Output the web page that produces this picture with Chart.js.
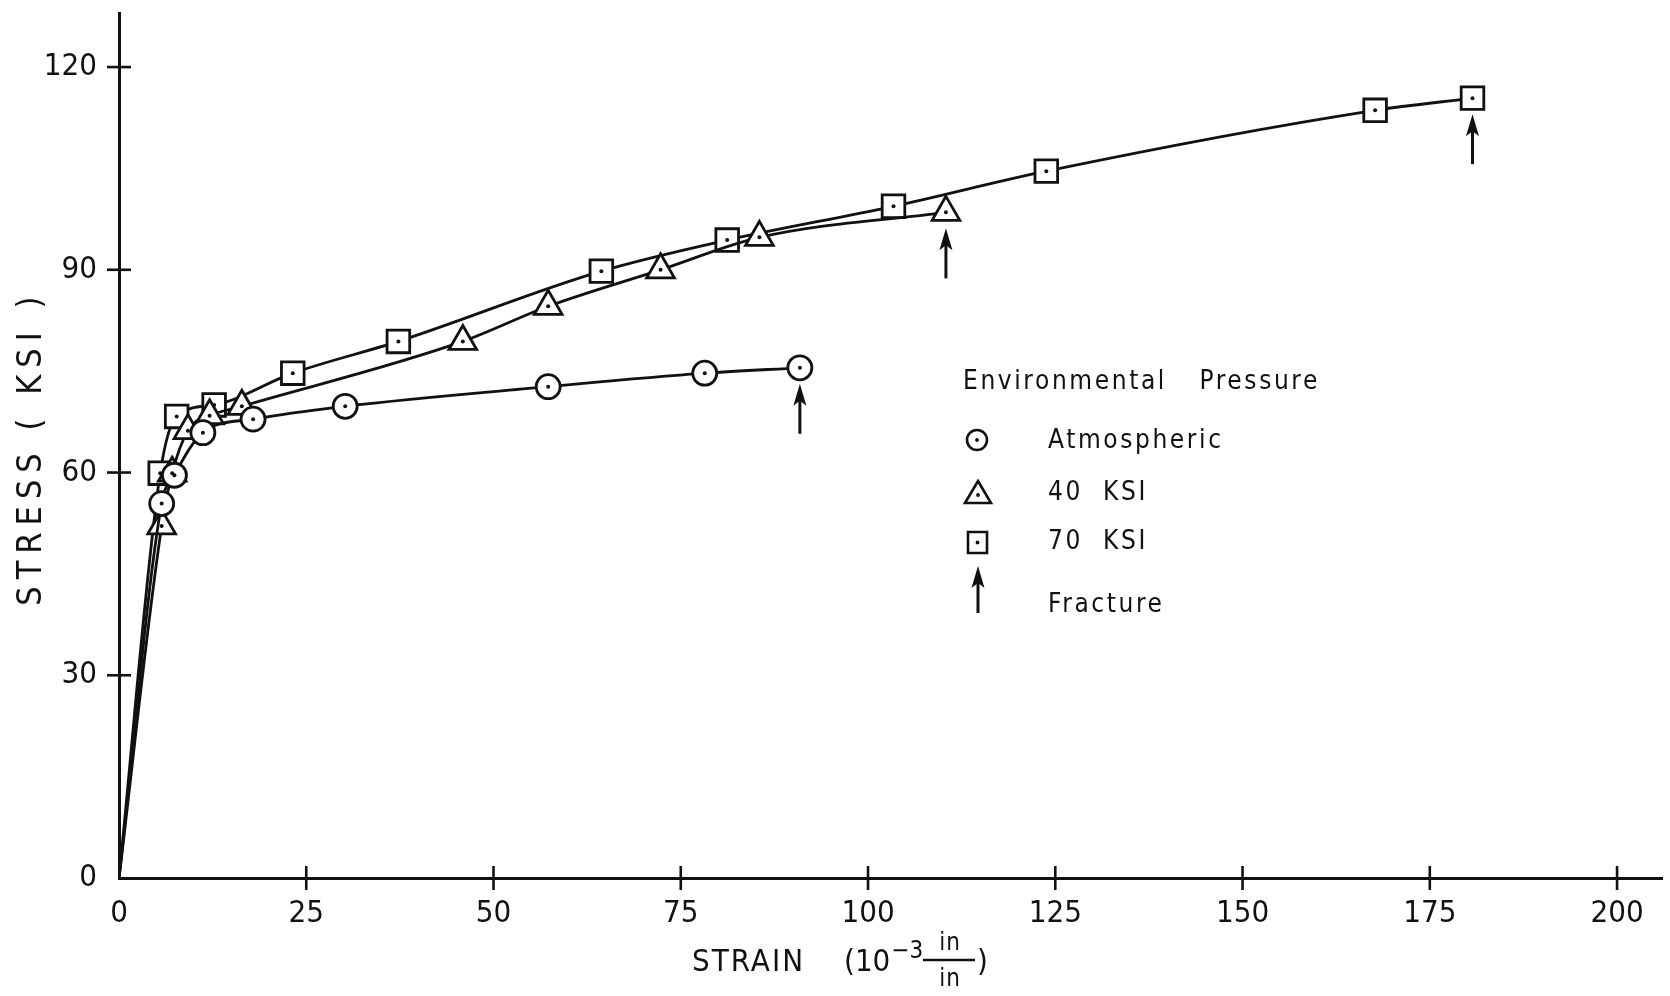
<!DOCTYPE html>
<html>
<head>
<meta charset="utf-8">
<script src="https://cdn.jsdelivr.net/npm/chart.js@4.4.1/dist/chart.umd.min.js"></script>
<style>
  html, body { margin: 0; padding: 0; background: #fff; }
  canvas { display: block; }
</style>
</head>
<body>
<canvas id="myChart" width="1670" height="996"></canvas>
<script>
(function(){
  // strain (10^-3 in/in) and stress (ksi), first point is the origin
  const atmStrain   = [0, 5.7, 7.4, 11.2, 17.9, 30.2, 57.3, 78.2, 90.9];
  const atmStress   = [0, 55.4, 59.6, 65.9, 67.9, 69.8, 72.7, 74.7, 75.5];
  const ksi40Strain = [0, 5.7, 7.1, 9.2, 12.1, 16.4, 45.9, 57.3, 72.3, 85.5, 110.4];
  const ksi40Stress = [0, 52.1, 59.9, 66.2, 68.4, 69.8, 79.4, 84.6, 90.0, 94.8, 98.5];
  const ksi70Strain = [0, 5.5, 7.7, 12.7, 23.2, 37.3, 64.4, 81.2, 103.4, 123.8, 167.7, 180.7];
  const ksi70Stress = [0, 59.9, 68.3, 70.0, 74.7, 79.4, 89.8, 94.4, 99.4, 104.6, 113.6, 115.4];

  const seriesNames = ['Atmospheric', '40  KSI', '70  KSI'];
  const xTickValues = [0, 25, 50, 75, 100, 125, 150, 175, 200];
  const yTickValues = [0, 30, 60, 90, 120];

  const FONT = '"DejaVu Sans Condensed", "Liberation Sans Narrow", "Liberation Sans", sans-serif';
  const INK = '#111';

  const pts = (xs, ys) => xs.map((x, i) => ({x: x, y: ys[i]}));

  function series(label, xs, ys, style, r){
    return {
      label: label,
      data: pts(xs, ys),
      borderColor: INK,
      borderWidth: 2.8,
      backgroundColor: '#fff',
      pointStyle: style,
      pointRadius: c => c.dataIndex === 0 ? 0 : r,
      pointHoverRadius: c => c.dataIndex === 0 ? 0 : r,
      pointBorderColor: INK,
      pointBackgroundColor: '#fff',
      pointBorderWidth: 2.8,
      cubicInterpolationMode: 'monotone',
      fill: false
    };
  }

  // small dot in the middle of every marker
  const centreDots = {
    id: 'centreDots',
    afterDatasetsDraw(chart){
      const ctx = chart.ctx;
      ctx.save();
      ctx.fillStyle = INK;
      chart.data.datasets.forEach((ds, i) => {
        chart.getDatasetMeta(i).data.forEach((el, j) => {
          if (j === 0) return;
          ctx.beginPath();
          ctx.arc(el.x, el.y, 2, 0, Math.PI * 2);
          ctx.fill();
        });
      });
      ctx.restore();
    }
  };

  function arrow(ctx, x, tip, len){
    ctx.beginPath();
    ctx.moveTo(x, tip + 12);
    ctx.lineTo(x, tip + len);
    ctx.stroke();
    ctx.beginPath();
    ctx.moveTo(x, tip);
    ctx.lineTo(x - 6.5, tip + 22);
    ctx.lineTo(x, tip + 17);
    ctx.lineTo(x + 6.5, tip + 22);
    ctx.closePath();
    ctx.fill();
  }

  // fracture arrows under the last point of each curve
  const fractures = {
    id: 'fractures',
    afterDatasetsDraw(chart){
      const ctx = chart.ctx;
      ctx.save();
      ctx.strokeStyle = INK; ctx.fillStyle = INK; ctx.lineWidth = 3;
      chart.data.datasets.forEach((ds, i) => {
        const d = chart.getDatasetMeta(i).data;
        const el = d[d.length - 1];
        arrow(ctx, el.x, el.y + 16, 50);
      });
      ctx.restore();
    }
  };

  // tick marks crossing the axes (none at the origin)
  const crossTicks = {
    id: 'crossTicks',
    afterDraw(chart){
      const {ctx, scales: {x, y}, chartArea: a} = chart;
      ctx.save();
      ctx.strokeStyle = INK; ctx.lineWidth = 2.6;
      xTickValues.slice(1).forEach(v => {
        const px = x.getPixelForValue(v);
        ctx.beginPath(); ctx.moveTo(px, a.bottom - 12); ctx.lineTo(px, a.bottom + 12); ctx.stroke();
      });
      yTickValues.slice(1).forEach(v => {
        const py = y.getPixelForValue(v);
        ctx.beginPath(); ctx.moveTo(a.left - 12, py); ctx.lineTo(a.left + 12, py); ctx.stroke();
      });
      ctx.restore();
    }
  };

  // axis titles and the legend box inside the plot
  const labels = {
    id: 'labels',
    afterDraw(chart){
      const ctx = chart.ctx;
      ctx.save();
      ctx.fillStyle = INK; ctx.strokeStyle = INK;
      ctx.textBaseline = 'middle';

      // y title
      ctx.save();
      ctx.translate(32, 0);
      ctx.rotate(-Math.PI / 2);
      ctx.textAlign = 'center';
      ctx.font = '34px ' + FONT;
      ctx.letterSpacing = '7px';
      ctx.fillText('STRESS', -526, 0);
      ctx.fillText('( KSI )', -360, 0);
      ctx.restore();

      // x title
      ctx.font = '31px ' + FONT;
      ctx.letterSpacing = '2px';
      ctx.textAlign = 'left';
      ctx.fillText('STRAIN', 692, 963);
      ctx.letterSpacing = '0px';
      ctx.fillText('(10', 844, 963);
      const sx = 845 + ctx.measureText('(10').width;
      ctx.font = '24px ' + FONT;
      ctx.fillText('\u22123', sx, 952);
      ctx.textAlign = 'center';
      ctx.letterSpacing = '1px';
      ctx.fillText('in', 950, 944);
      ctx.fillText('in', 950, 980);
      ctx.lineWidth = 2.4;
      ctx.beginPath(); ctx.moveTo(923, 960); ctx.lineTo(975, 960); ctx.stroke();
      ctx.font = '31px ' + FONT;
      ctx.textAlign = 'left';
      ctx.fillText(')', 977, 963);

      // legend
      ctx.letterSpacing = '2.6px';
      ctx.font = '26px ' + FONT;
      ctx.fillText('Environmental', 963, 382);
      ctx.textAlign = 'right';
      ctx.fillText('Pressure', 1320, 382);
      ctx.textAlign = 'left';
      const rows = [441, 493, 542];
      rows.forEach((yy, i) => ctx.fillText(seriesNames[i], 1048, yy));
      ctx.fillText('Fracture', 1048, 605);

      ctx.lineWidth = 2.6;
      ctx.fillStyle = '#fff';
      ctx.beginPath(); ctx.arc(977, 440, 10, 0, Math.PI * 2); ctx.fill(); ctx.stroke();
      ctx.beginPath();
      ctx.moveTo(978, 481); ctx.lineTo(991, 503); ctx.lineTo(965, 503); ctx.closePath();
      ctx.fill(); ctx.stroke();
      ctx.beginPath(); ctx.rect(968, 532, 19, 21); ctx.fill(); ctx.stroke();
      ctx.fillStyle = INK;
      [[977, 440], [978, 495], [977.5, 542.5]].forEach(p => {
        ctx.beginPath(); ctx.arc(p[0], p[1], 1.9, 0, Math.PI * 2); ctx.fill();
      });
      ctx.lineWidth = 3;
      arrow(ctx, 978, 566, 47);
      ctx.restore();
    }
  };

  const config = {
    type: 'line',
    data: {
      datasets: [
        series(seriesNames[0], atmStrain, atmStress, 'circle', 12),
        series(seriesNames[1], ksi40Strain, ksi40Stress, 'triangle', 16),
        series(seriesNames[2], ksi70Strain, ksi70Stress, 'rect', 16)
      ]
    },
    options: {
      responsive: false,
      devicePixelRatio: 1,
      animation: false,
      layout: { autoPadding: false, padding: { top: 13, right: 8, left: 0, bottom: 0 } },
      plugins: { legend: { display: false }, tooltip: { enabled: false } },
      scales: {
        x: {
          type: 'linear',
          min: 0, max: 206,
          afterBuildTicks: s => { s.ticks = xTickValues.map(v => ({value: v})); },
          afterFit: s => { s.height = 118; s.paddingLeft = 0; s.paddingRight = 0; },
          ticks: { padding: 17, color: INK, maxRotation: 0, autoSkip: false,
                   font: { family: FONT, size: 31 } },
          grid: { display: false, drawTicks: false },
          border: { display: true, color: INK, width: 3 }
        },
        y: {
          type: 'linear',
          min: 0, max: 128,
          afterBuildTicks: s => { s.ticks = yTickValues.map(v => ({value: v})); },
          afterFit: s => { s.width = 119; s.paddingTop = 0; s.paddingBottom = 0; },
          ticks: { padding: 22, color: INK, autoSkip: false,
                   font: { family: FONT, size: 31 } },
          grid: { display: false, drawTicks: false },
          border: { display: true, color: INK, width: 3 }
        }
      }
    },
    plugins: [centreDots, fractures, crossTicks, labels]
  };

  new Chart(document.getElementById('myChart'), config);
})();
</script>
</body>
</html>
